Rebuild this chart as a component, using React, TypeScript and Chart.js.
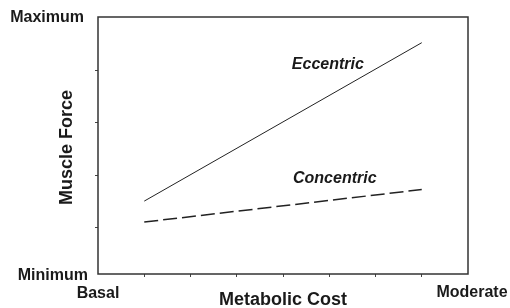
import React, { useEffect, useRef } from "react";
import { Chart, registerables } from "chart.js";

Chart.register(...registerables);

const xPoints = [1, 7];
const eccentric = [1.51, 4.53];
const concentric = [1.11, 1.73];
const seriesNames = ["Eccentric", "Concentric"];
const seriesLabelPos = [
  [4.97, 4.11],
  [5.12, 1.93],
];
const xTicks = [1, 2, 3, 4, 5, 6, 7];
const yTicks = [1, 2, 3, 4];
const xEndLabels = ["Basal", "Moderate"];
const yEndLabels = ["Minimum", "Maximum"];
const xTitle = "Metabolic Cost";
const yTitle = "Muscle Force";

const FONT = "'Liberation Sans', Arial, Helvetica, sans-serif";

const textPlugin = {
  id: "textPlugin",
  afterDraw(chart: any) {
    const { ctx, chartArea } = chart;
    const xs = chart.scales.x;
    const ys = chart.scales.y;
    ctx.save();
    ctx.strokeStyle = "#333";
    ctx.lineWidth = 1.5;
    ctx.strokeRect(chartArea.left, chartArea.top, chartArea.right - chartArea.left, chartArea.bottom - chartArea.top);

    ctx.fillStyle = "#1a1a1a";
    ctx.textBaseline = "middle";
    ctx.font = `bold 16px ${FONT}`;
    ctx.textAlign = "right";
    ctx.fillText(yEndLabels[1], chartArea.left - 14, chartArea.top + 1);
    ctx.fillText(yEndLabels[0], chartArea.left - 10, chartArea.bottom + 2);
    ctx.textAlign = "center";
    ctx.fillText(xEndLabels[0], chartArea.left, chartArea.bottom + 20);
    ctx.fillText(xEndLabels[1], chartArea.right + 4, chartArea.bottom + 19);

    ctx.font = `bold 18px ${FONT}`;
    ctx.fillText(xTitle, (chartArea.left + chartArea.right) / 2, chartArea.bottom + 26);
    ctx.save();
    ctx.translate(chartArea.left - 31, (chartArea.top + chartArea.bottom) / 2 + 2);
    ctx.rotate(-Math.PI / 2);
    ctx.fillText(yTitle, 0, 0);
    ctx.restore();

    ctx.font = `italic bold 16px ${FONT}`;
    seriesNames.forEach((n, i) => {
      const [vx, vy] = seriesLabelPos[i];
      ctx.fillText(n, xs.getPixelForValue(vx), ys.getPixelForValue(vy));
    });
    ctx.restore();
  },
};

export default function App() {
  const ref = useRef<HTMLCanvasElement>(null);
  useEffect(() => {
    document.body.style.margin = "0";
    const chart = new Chart(ref.current!, {
      type: "line",
      data: {
        datasets: [
          {
            label: seriesNames[0],
            data: xPoints.map((x, i) => ({ x, y: eccentric[i] })),
            borderColor: "#222",
            borderWidth: 1,
            pointRadius: 0,
            fill: false,
          },
          {
            label: seriesNames[1],
            data: xPoints.map((x, i) => ({ x, y: concentric[i] })),
            borderColor: "#222",
            borderWidth: 1.5,
            borderDash: [14, 5],
            pointRadius: 0,
            fill: false,
          },
        ],
      },
      options: {
        animation: false,
        responsive: false,
        layout: { padding: { left: 95, top: 17, right: 42, bottom: 31 } },
        plugins: { legend: { display: false }, tooltip: { enabled: false } },
        scales: {
          x: {
            type: "linear",
            min: 0,
            max: 8,
            afterBuildTicks: (s: any) => {
              s.ticks = xTicks.map((v) => ({ value: v }));
            },
            ticks: { display: false },
            grid: { drawOnChartArea: false, drawTicks: true, tickLength: 3, color: "#444", lineWidth: 1 },
            border: { display: false },
          },
          y: {
            type: "linear",
            min: 0.12,
            max: 5.02,
            afterBuildTicks: (s: any) => {
              s.ticks = yTicks.map((v) => ({ value: v }));
            },
            ticks: { display: false },
            grid: { drawOnChartArea: false, drawTicks: true, tickLength: 3, color: "#444", lineWidth: 1 },
            border: { display: false },
          },
        },
      },
      plugins: [textPlugin],
    });
    return () => chart.destroy();
  }, []);
  return (
    <div style={{ position: "fixed", left: 0, top: 0, width: 510, height: 308, background: "#fff" }}>
      <canvas ref={ref} width={510} height={308} style={{ width: 510, height: 308 }} />
    </div>
  );
}
